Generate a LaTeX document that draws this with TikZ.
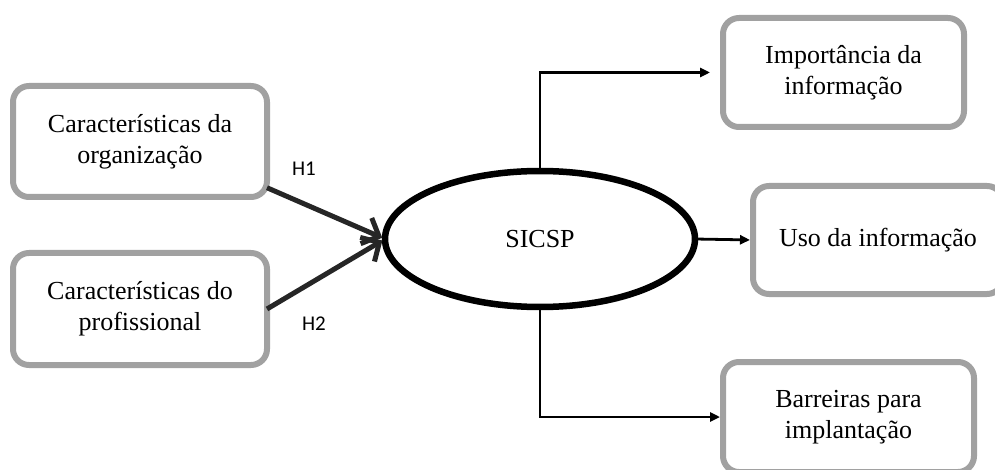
\documentclass[tikz,border=0pt]{standalone}
\usepackage{fontspec}
\setmainfont{Liberation Serif}
\newfontfamily\labelfont{Carlito}
\usetikzlibrary{arrows.meta,shapes.geometric}

% two centred lines, lowered by #1
\newcommand\twolines[3]{\raisebox{#1}{\begin{tabular}{@{}c@{}}#2\\#3\end{tabular}}}

\tikzset{
  x=1pt, y=-1pt,
  varbox/.style={draw=black!37, line width=6pt, rounded corners=16pt,
    fill=white, align=center, inner sep=0pt, outer sep=0pt,
    font=\fontsize{26}{31}\selectfont},
  core/.style={ellipse, draw=black, line width=6.5pt, fill=white,
    inner sep=0pt, outer sep=0pt, font=\fontsize{26}{30}\selectfont},
  hyp/.style={draw=black!85, line width=5pt,
    -{Straight Barb[length=14pt, width=28pt, line width=5pt]}},
  outlink/.style={draw=black, line width=2.8pt,
    -{Triangle[length=10pt, width=9pt]}},
  hlabel/.style={font=\labelfont\fontsize{21}{22}\selectfont, inner sep=0pt}
}

\begin{document}
\begin{tikzpicture}
  \useasboundingbox (0,0) rectangle (995,470);
  \clip (0,0) rectangle (995,470);

  % input constructs
  \node[varbox, minimum width=254pt, minimum height=111pt] (org) at (140,141.5)
    {\twolines{-4pt}{Características da}{organização}};
  \node[varbox, minimum width=254pt, minimum height=112pt] (prof) at (140,309)
    {\twolines{-3pt}{Características do}{profissional}};

  % central construct
  \node[core, minimum width=310pt, minimum height=136pt] (sicsp) at (540,239) {SICSP};

  % outcome constructs
  \node[varbox, minimum width=241pt, minimum height=109pt] (imp) at (843.5,72.5)
    {\twolines{-3pt}{Importância da}{informação}};
  \node[varbox, minimum width=250pt, minimum height=108pt] (uso) at (878,240)
    {\raisebox{-2pt}{Uso da informação}};
  \node[varbox, minimum width=251pt, minimum height=110pt] (bar) at (848.5,417)
    {\twolines{0pt}{Barreiras para}{implantação}};

  % hypotheses
  \draw[hyp, shorten >=3pt] (org.-20) -- (sicsp.west);
  \draw[hyp, shorten >=3pt] (prof.east) -- (sicsp.west);
  \node[hlabel] (h1) at (304,169) {H1};
  \node[hlabel] (h2) at (314,324) {H2};

  % outcome links
  \draw[outlink, shorten >=13pt] (sicsp.north) |- (imp.west);
  \draw[outlink, shorten >=3pt] (sicsp.east) -- (uso.west);
  \draw[outlink, shorten >=3pt] (sicsp.south) |- (bar.west);
\end{tikzpicture}
\end{document}
